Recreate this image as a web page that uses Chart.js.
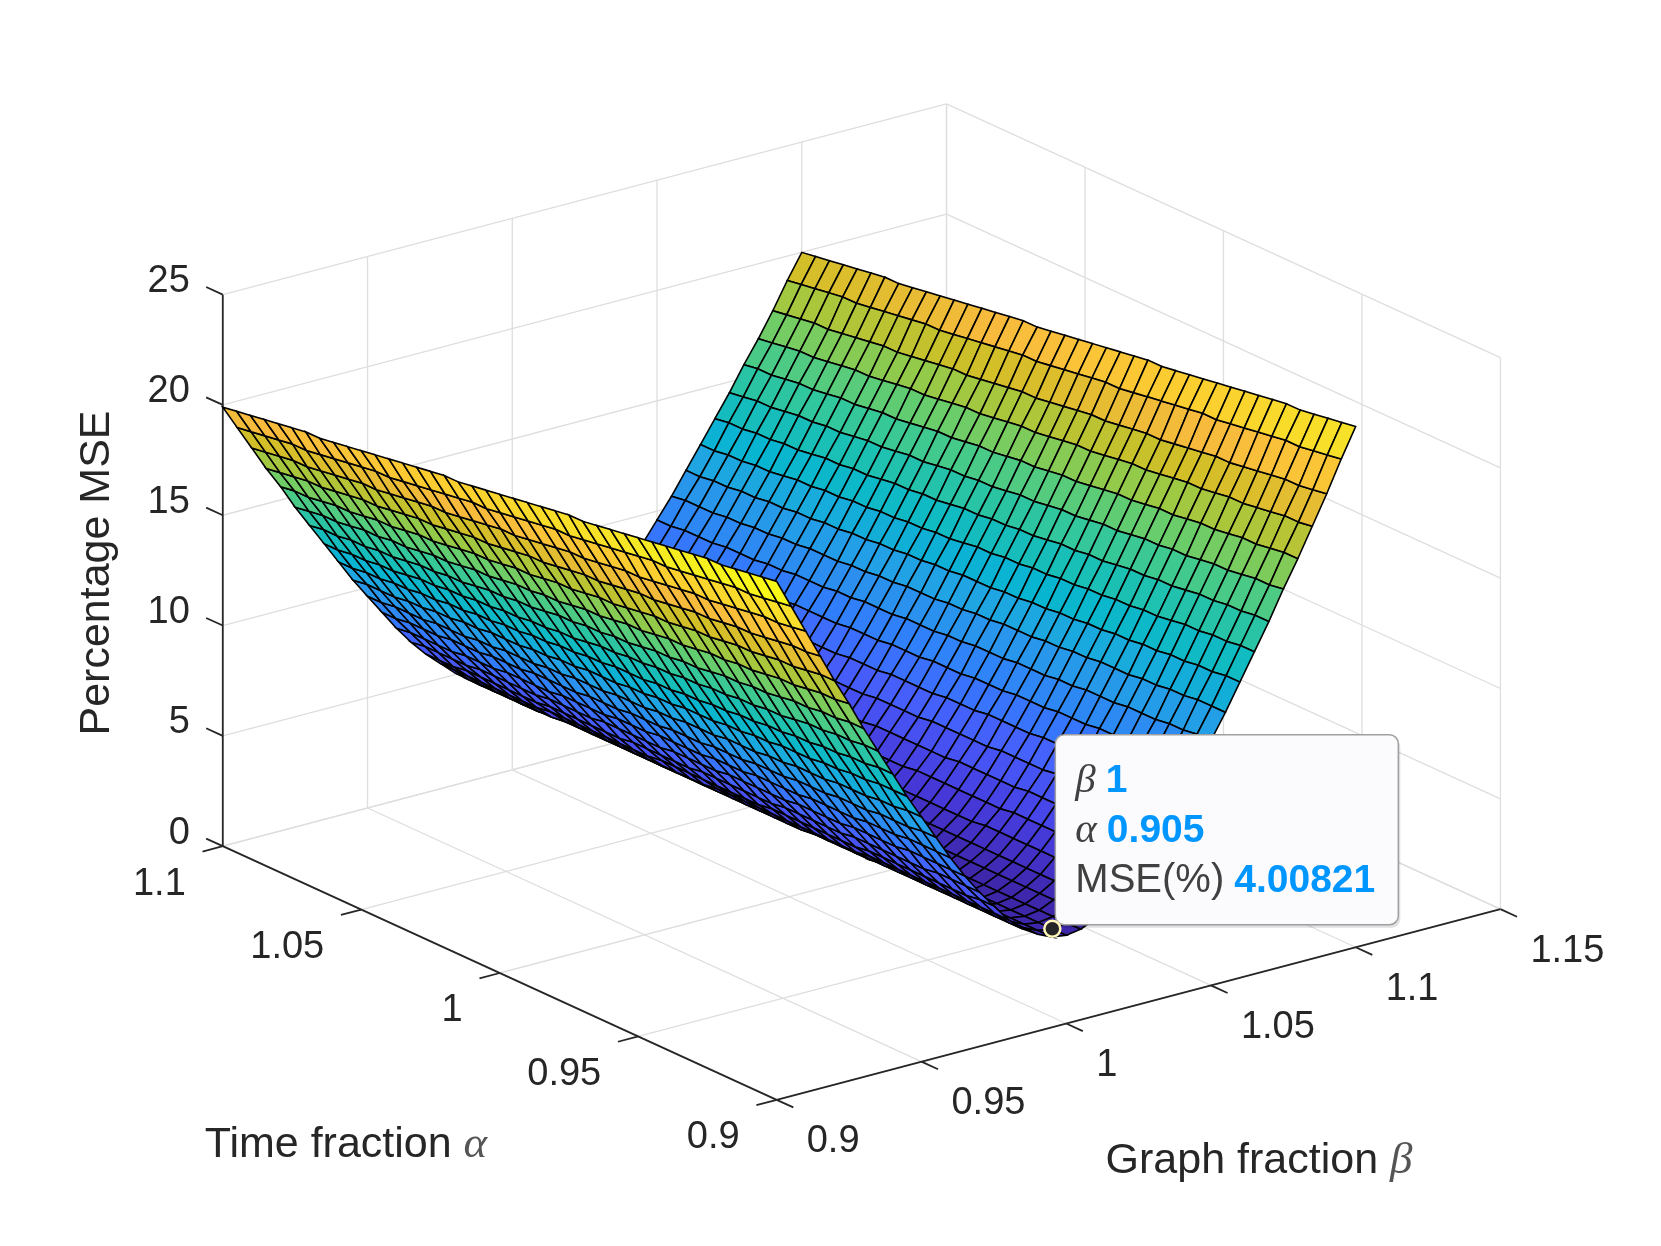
<!DOCTYPE html>
<html>
<head>
<meta charset="utf-8">
<title>Percentage MSE surface</title>
<script src="https://cdn.jsdelivr.net/npm/chart.js@4.4.1/dist/chart.umd.min.js"></script>
<style>
  html, body { margin: 0; padding: 0; background: #ffffff; }
  #wrap { width: 1661px; height: 1246px; position: relative; }
</style>
</head>
<body>
<div id="wrap"><canvas id="surf" width="1661" height="1246"></canvas></div>
<script>
// Grille des paramètres (alpha en lignes, beta en colonnes)
const alphaGrid = [0.900, 0.905, 0.910, 0.915, 0.920, 0.925, 0.930, 0.935, 0.940, 0.945,
                   0.950, 0.955, 0.960, 0.965, 0.970, 0.975, 0.980, 0.985, 0.990, 0.995,
                   1.000, 1.005, 1.010, 1.015, 1.020, 1.025, 1.030, 1.035, 1.040, 1.045,
                   1.050, 1.055, 1.060, 1.065, 1.070, 1.075, 1.080, 1.085, 1.090, 1.095, 1.100];
const betaGrid = [0.900, 0.905, 0.910, 0.915, 0.920, 0.925, 0.930, 0.935, 0.940, 0.945,
                  0.950, 0.955, 0.960, 0.965, 0.970, 0.975, 0.980, 0.985, 0.990, 0.995,
                  1.000, 1.005, 1.010, 1.015, 1.020, 1.025, 1.030, 1.035, 1.040, 1.045,
                  1.050, 1.055, 1.060, 1.065, 1.070, 1.075, 1.080, 1.085, 1.090, 1.095, 1.100];

// MSE (%), une ligne par valeur d'alpha
const mseGrid = [
  [23.5,22.2,20.9,19.6,18.3,17.1,15.8,14.6,13.4,12.2,11.1,10.0,8.9,7.9,7.0,6.2,5.4,4.8,4.4,4.1,4.0,4.1,4.4,4.8,5.4,6.2,7.0,7.9,8.9,10.0,11.1,12.2,13.4,14.6,15.8,17.1,18.3,19.6,20.9,22.3,23.6],
  [23.4,22.1,20.8,19.5,18.3,17.0,15.8,14.6,13.4,12.2,11.1,10.0,8.9,7.9,7.0,6.2,5.4,4.8,4.4,4.1,4.0,4.1,4.4,4.8,5.4,6.2,7.0,7.9,8.9,10.0,11.1,12.2,13.4,14.6,15.8,17.0,18.3,19.5,20.8,22.2,23.5],
  [23.3,22.0,20.7,19.5,18.2,17.0,15.7,14.5,13.3,12.2,11.0,9.9,8.9,7.9,7.0,6.1,5.4,4.8,4.4,4.1,4.0,4.1,4.4,4.8,5.4,6.1,7.0,7.9,8.9,9.9,11.0,12.2,13.3,14.5,15.7,17.0,18.2,19.5,20.7,22.1,23.4],
  [23.2,21.9,20.7,19.4,18.1,16.9,15.7,14.5,13.3,12.1,11.0,9.9,8.9,7.9,7.0,6.1,5.4,4.8,4.4,4.1,4.0,4.1,4.4,4.8,5.4,6.1,7.0,7.9,8.9,9.9,11.0,12.1,13.3,14.5,15.7,16.9,18.1,19.4,20.7,22.0,23.3],
  [23.1,21.9,20.6,19.3,18.1,16.8,15.6,14.4,13.2,12.1,10.9,9.9,8.8,7.9,6.9,6.1,5.4,4.8,4.4,4.1,4.0,4.1,4.4,4.8,5.4,6.1,6.9,7.9,8.8,9.9,10.9,12.1,13.2,14.4,15.6,16.8,18.1,19.3,20.6,22.0,23.2],
  [23.1,21.8,20.5,19.2,18.0,16.8,15.6,14.4,13.2,12.0,10.9,9.8,8.8,7.8,6.9,6.1,5.4,4.8,4.4,4.1,4.0,4.1,4.4,4.8,5.4,6.1,6.9,7.8,8.8,9.8,10.9,12.0,13.2,14.4,15.6,16.8,18.0,19.2,20.5,21.9,23.2],
  [23.0,21.7,20.4,19.2,17.9,16.7,15.5,14.3,13.1,12.0,10.9,9.8,8.8,7.8,6.9,6.1,5.4,4.8,4.4,4.1,4.0,4.1,4.4,4.8,5.4,6.1,6.9,7.8,8.8,9.8,10.9,12.0,13.1,14.3,15.5,16.7,17.9,19.2,20.4,21.8,23.1],
  [22.9,21.6,20.3,19.1,17.9,16.6,15.4,14.2,13.1,11.9,10.8,9.8,8.7,7.8,6.9,6.1,5.4,4.8,4.4,4.1,4.0,4.1,4.4,4.8,5.4,6.1,6.9,7.8,8.7,9.8,10.8,11.9,13.1,14.2,15.4,16.6,17.9,19.1,20.3,21.7,23.0],
  [22.8,21.5,20.3,19.0,17.8,16.6,15.4,14.2,13.0,11.9,10.8,9.7,8.7,7.8,6.9,6.1,5.4,4.8,4.4,4.1,4.0,4.1,4.4,4.8,5.4,6.1,6.9,7.8,8.7,9.7,10.8,11.9,13.0,14.2,15.4,16.6,17.8,19.0,20.3,21.6,22.9],
  [22.7,21.4,20.2,19.0,17.7,16.5,15.3,14.1,13.0,11.9,10.8,9.7,8.7,7.7,6.9,6.1,5.4,4.8,4.4,4.1,4.0,4.1,4.4,4.8,5.4,6.1,6.9,7.7,8.7,9.7,10.8,11.9,13.0,14.1,15.3,16.5,17.7,19.0,20.2,21.5,22.8],
  [22.6,21.4,20.1,18.9,17.7,16.5,15.3,14.1,12.9,11.8,10.7,9.7,8.7,7.7,6.8,6.0,5.4,4.8,4.4,4.1,4.0,4.1,4.4,4.8,5.4,6.0,6.8,7.7,8.7,9.7,10.7,11.8,12.9,14.1,15.3,16.5,17.7,18.9,20.1,21.5,22.7],
  [22.5,21.3,20.0,18.8,17.6,16.4,15.2,14.0,12.9,11.8,10.7,9.6,8.6,7.7,6.8,6.0,5.3,4.8,4.4,4.1,4.0,4.1,4.4,4.8,5.3,6.0,6.8,7.7,8.6,9.6,10.7,11.8,12.9,14.0,15.2,16.4,17.6,18.8,20.0,21.4,22.6],
  [22.4,21.2,19.9,18.7,17.5,16.3,15.1,14.0,12.8,11.7,10.6,9.6,8.6,7.7,6.8,6.0,5.3,4.8,4.3,4.1,4.0,4.1,4.3,4.8,5.3,6.0,6.8,7.7,8.6,9.6,10.6,11.7,12.8,14.0,15.1,16.3,17.5,18.7,19.9,21.3,22.5],
  [22.3,21.1,19.9,18.7,17.5,16.3,15.1,13.9,12.8,11.7,10.6,9.6,8.6,7.6,6.8,6.0,5.3,4.8,4.3,4.1,4.0,4.1,4.3,4.8,5.3,6.0,6.8,7.6,8.6,9.6,10.6,11.7,12.8,13.9,15.1,16.3,17.5,18.7,19.9,21.2,22.4],
  [22.2,21.0,19.8,18.6,17.4,16.2,15.0,13.9,12.7,11.6,10.6,9.5,8.6,7.6,6.8,6.0,5.3,4.8,4.3,4.1,4.0,4.1,4.3,4.8,5.3,6.0,6.8,7.6,8.6,9.5,10.6,11.6,12.7,13.9,15.0,16.2,17.4,18.6,19.8,21.1,22.3],
  [22.2,20.9,19.7,18.5,17.3,16.1,15.0,13.8,12.7,11.6,10.5,9.5,8.5,7.6,6.7,6.0,5.3,4.8,4.3,4.1,4.0,4.1,4.3,4.8,5.3,6.0,6.7,7.6,8.5,9.5,10.5,11.6,12.7,13.8,15.0,16.1,17.3,18.5,19.7,21.0,22.3],
  [22.1,20.8,19.6,18.4,17.2,16.1,14.9,13.8,12.6,11.6,10.5,9.5,8.5,7.6,6.7,6.0,5.3,4.7,4.3,4.1,4.0,4.1,4.3,4.7,5.3,6.0,6.7,7.6,8.5,9.5,10.5,11.6,12.6,13.8,14.9,16.1,17.2,18.4,19.6,20.9,22.2],
  [22.0,20.8,19.6,18.4,17.2,16.0,14.8,13.7,12.6,11.5,10.5,9.4,8.5,7.6,6.7,5.9,5.3,4.7,4.3,4.1,4.0,4.1,4.3,4.7,5.3,5.9,6.7,7.6,8.5,9.4,10.5,11.5,12.6,13.7,14.8,16.0,17.2,18.4,19.6,20.9,22.1],
  [21.9,20.7,19.5,18.3,17.1,15.9,14.8,13.7,12.5,11.5,10.4,9.4,8.4,7.5,6.7,5.9,5.3,4.7,4.3,4.1,4.0,4.1,4.3,4.7,5.3,5.9,6.7,7.5,8.4,9.4,10.4,11.5,12.5,13.7,14.8,15.9,17.1,18.3,19.5,20.8,22.0],
  [21.8,20.6,19.4,18.2,17.0,15.9,14.7,13.6,12.5,11.4,10.4,9.4,8.4,7.5,6.7,5.9,5.3,4.7,4.3,4.1,4.0,4.1,4.3,4.7,5.3,5.9,6.7,7.5,8.4,9.4,10.4,11.4,12.5,13.6,14.7,15.9,17.0,18.2,19.4,20.7,21.9],
  [21.7,20.5,19.3,18.1,17.0,15.8,14.7,13.6,12.5,11.4,10.3,9.3,8.4,7.5,6.7,5.9,5.3,4.7,4.3,4.1,4.0,4.1,4.3,4.7,5.3,5.9,6.7,7.5,8.4,9.3,10.3,11.4,12.5,13.6,14.7,15.8,17.0,18.1,19.3,20.6,21.8],
  [21.6,20.4,19.2,18.1,16.9,15.7,14.6,13.5,12.4,11.3,10.3,9.3,8.4,7.5,6.6,5.9,5.3,4.7,4.3,4.1,4.0,4.1,4.3,4.7,5.3,5.9,6.6,7.5,8.4,9.3,10.3,11.3,12.4,13.5,14.6,15.7,16.9,18.1,19.2,20.5,21.7],
  [21.5,20.3,19.2,18.0,16.8,15.7,14.6,13.4,12.4,11.3,10.3,9.3,8.3,7.4,6.6,5.9,5.2,4.7,4.3,4.1,4.0,4.1,4.3,4.7,5.2,5.9,6.6,7.4,8.3,9.3,10.3,11.3,12.4,13.4,14.6,15.7,16.8,18.0,19.2,20.4,21.6],
  [21.4,20.3,19.1,17.9,16.8,15.6,14.5,13.4,12.3,11.3,10.2,9.2,8.3,7.4,6.6,5.9,5.2,4.7,4.3,4.1,4.0,4.1,4.3,4.7,5.2,5.9,6.6,7.4,8.3,9.2,10.2,11.3,12.3,13.4,14.5,15.6,16.8,17.9,19.1,20.4,21.5],
  [21.4,20.2,19.0,17.8,16.7,15.6,14.4,13.3,12.3,11.2,10.2,9.2,8.3,7.4,6.6,5.9,5.2,4.7,4.3,4.1,4.0,4.1,4.3,4.7,5.2,5.9,6.6,7.4,8.3,9.2,10.2,11.2,12.3,13.3,14.4,15.6,16.7,17.8,19.0,20.3,21.5],
  [21.3,20.1,18.9,17.8,16.6,15.5,14.4,13.3,12.2,11.2,10.2,9.2,8.2,7.4,6.6,5.8,5.2,4.7,4.3,4.1,4.0,4.1,4.3,4.7,5.2,5.8,6.6,7.4,8.2,9.2,10.2,11.2,12.2,13.3,14.4,15.5,16.6,17.8,18.9,20.2,21.4],
  [21.2,20.0,18.8,17.7,16.6,15.4,14.3,13.2,12.2,11.1,10.1,9.1,8.2,7.4,6.5,5.8,5.2,4.7,4.3,4.1,4.0,4.1,4.3,4.7,5.2,5.8,6.5,7.4,8.2,9.1,10.1,11.1,12.2,13.2,14.3,15.4,16.6,17.7,18.8,20.1,21.3],
  [21.1,19.9,18.8,17.6,16.5,15.4,14.3,13.2,12.1,11.1,10.1,9.1,8.2,7.3,6.5,5.8,5.2,4.7,4.3,4.1,4.0,4.1,4.3,4.7,5.2,5.8,6.5,7.3,8.2,9.1,10.1,11.1,12.1,13.2,14.3,15.4,16.5,17.6,18.8,20.0,21.2],
  [21.0,19.8,18.7,17.5,16.4,15.3,14.2,13.1,12.1,11.0,10.0,9.1,8.2,7.3,6.5,5.8,5.2,4.7,4.3,4.1,4.0,4.1,4.3,4.7,5.2,5.8,6.5,7.3,8.2,9.1,10.0,11.0,12.1,13.1,14.2,15.3,16.4,17.5,18.7,19.9,21.1],
  [20.9,19.7,18.6,17.5,16.3,15.2,14.1,13.1,12.0,11.0,10.0,9.1,8.1,7.3,6.5,5.8,5.2,4.7,4.3,4.1,4.0,4.1,4.3,4.7,5.2,5.8,6.5,7.3,8.1,9.1,10.0,11.0,12.0,13.1,14.1,15.2,16.3,17.5,18.6,19.8,21.0],
  [20.8,19.7,18.5,17.4,16.3,15.2,14.1,13.0,12.0,11.0,10.0,9.0,8.1,7.3,6.5,5.8,5.2,4.7,4.3,4.1,4.0,4.1,4.3,4.7,5.2,5.8,6.5,7.3,8.1,9.0,10.0,11.0,12.0,13.0,14.1,15.2,16.3,17.4,18.5,19.8,20.9],
  [20.7,19.6,18.4,17.3,16.2,15.1,14.0,13.0,11.9,10.9,9.9,9.0,8.1,7.2,6.5,5.8,5.2,4.7,4.3,4.1,4.0,4.1,4.3,4.7,5.2,5.8,6.5,7.2,8.1,9.0,9.9,10.9,11.9,13.0,14.0,15.1,16.2,17.3,18.4,19.7,20.8],
  [20.6,19.5,18.4,17.2,16.1,15.0,14.0,12.9,11.9,10.9,9.9,9.0,8.1,7.2,6.4,5.8,5.2,4.7,4.3,4.1,4.0,4.1,4.3,4.7,5.2,5.8,6.4,7.2,8.1,9.0,9.9,10.9,11.9,12.9,14.0,15.0,16.1,17.2,18.4,19.6,20.7],
  [20.5,19.4,18.3,17.2,16.1,15.0,13.9,12.9,11.8,10.8,9.8,8.9,8.0,7.2,6.4,5.7,5.1,4.7,4.3,4.1,4.0,4.1,4.3,4.7,5.1,5.7,6.4,7.2,8.0,8.9,9.8,10.8,11.8,12.9,13.9,15.0,16.1,17.2,18.3,19.5,20.6],
  [20.5,19.3,18.2,17.1,16.0,14.9,13.8,12.8,11.8,10.8,9.8,8.9,8.0,7.2,6.4,5.7,5.1,4.7,4.3,4.1,4.0,4.1,4.3,4.7,5.1,5.7,6.4,7.2,8.0,8.9,9.8,10.8,11.8,12.8,13.8,14.9,16.0,17.1,18.2,19.4,20.6],
  [20.4,19.2,18.1,17.0,15.9,14.9,13.8,12.7,11.7,10.7,9.8,8.9,8.0,7.2,6.4,5.7,5.1,4.6,4.3,4.1,4.0,4.1,4.3,4.6,5.1,5.7,6.4,7.2,8.0,8.9,9.8,10.7,11.7,12.7,13.8,14.9,15.9,17.0,18.1,19.3,20.5],
  [20.3,19.2,18.0,16.9,15.9,14.8,13.7,12.7,11.7,10.7,9.7,8.8,7.9,7.1,6.4,5.7,5.1,4.6,4.3,4.1,4.0,4.1,4.3,4.6,5.1,5.7,6.4,7.1,7.9,8.8,9.7,10.7,11.7,12.7,13.7,14.8,15.9,16.9,18.0,19.3,20.4],
  [20.2,19.1,18.0,16.9,15.8,14.7,13.7,12.6,11.6,10.6,9.7,8.8,7.9,7.1,6.4,5.7,5.1,4.6,4.3,4.1,4.0,4.1,4.3,4.6,5.1,5.7,6.4,7.1,7.9,8.8,9.7,10.6,11.6,12.6,13.7,14.7,15.8,16.9,18.0,19.2,20.3],
  [20.1,19.0,17.9,16.8,15.7,14.7,13.6,12.6,11.6,10.6,9.7,8.8,7.9,7.1,6.3,5.7,5.1,4.6,4.3,4.1,4.0,4.1,4.3,4.6,5.1,5.7,6.3,7.1,7.9,8.8,9.7,10.6,11.6,12.6,13.6,14.7,15.7,16.8,17.9,19.1,20.2],
  [20.0,18.9,17.8,16.7,15.7,14.6,13.6,12.5,11.5,10.6,9.6,8.7,7.9,7.1,6.3,5.7,5.1,4.6,4.3,4.1,4.0,4.1,4.3,4.6,5.1,5.7,6.3,7.1,7.9,8.7,9.6,10.6,11.5,12.5,13.6,14.6,15.7,16.7,17.8,19.0,20.1],
  [19.9,18.8,17.7,16.6,15.6,14.5,13.5,12.5,11.5,10.5,9.6,8.7,7.8,7.0,6.3,5.7,5.1,4.6,4.3,4.1,4.0,4.1,4.3,4.6,5.1,5.7,6.3,7.0,7.8,8.7,9.6,10.5,11.5,12.5,13.5,14.5,15.6,16.6,17.7,18.9,20.0]
];

// Graduations des trois axes
const alphaTicks = [0.9, 0.95, 1, 1.05, 1.1];
const betaTicks = [0.9, 0.95, 1, 1.05, 1.1, 1.15];
const mseTicks = [0, 5, 10, 15, 20, 25];

// Point marqué (datatip)
const tipBeta = 1;
const tipAlpha = 0.905;
const tipMse = 4.00821;

// Limites de la boîte 3D
const LIM = { a0: 0.9, a1: 1.1, b0: 0.9, b1: 1.15, z0: 0, z1: 25 };

// Vue orthographique : origine (alpha=1.1, beta=0.9, MSE=0) et vecteurs des arêtes en pixels
const VIEW = { ox: 215, oy: 850, px: 561, py: 258, qx: 733, qy: -194, wz: 561 };

function toBox(a, b, z) {
    return {
        p: (LIM.a1 - a) / (LIM.a1 - LIM.a0),
        q: (b - LIM.b0) / (LIM.b1 - LIM.b0),
        w: (z - LIM.z0) / (LIM.z1 - LIM.z0)
    };
}

function project(a, b, z) {
    const { p, q, w } = toBox(a, b, z);
    return {
        x: VIEW.ox + VIEW.px * p + VIEW.qx * q,
        y: VIEW.oy + VIEW.py * p + VIEW.qy * q - VIEW.wz * w
    };
}

// Profondeur vers l'observateur (plus grand = plus proche)
function depth(a, b, z) {
    const { p, q, w } = toBox(a, b, z);
    return 691 * p - 521 * q + 208 * w;
}

// Palette parula (positions sur 64 niveaux)
const PARULA_POS = [0, 4, 8, 12, 16, 20, 24, 28, 32, 36, 40, 44, 48, 52, 56, 60, 63];
const PARULA_RGB = [
    [62, 38, 168], [69, 55, 213], [72, 77, 240], [69, 99, 253], [50, 124, 252],
    [43, 145, 239], [32, 165, 227], [8, 181, 208], [25, 191, 182], [55, 200, 151],
    [100, 205, 111], [157, 201, 67], [209, 191, 39], [248, 186, 61], [252, 207, 48],
    [245, 233, 36], [249, 251, 21]
];

function parula(v, lo, hi) {
    let t = (v - lo) / (hi - lo);
    t = Math.max(0, Math.min(1, t));
    const pos = t * 63;
    let s = 0;
    while (s < PARULA_POS.length - 2 && PARULA_POS[s + 1] < pos) s++;
    const f = (pos - PARULA_POS[s]) / (PARULA_POS[s + 1] - PARULA_POS[s]);
    const c0 = PARULA_RGB[s], c1 = PARULA_RGB[s + 1];
    const r = Math.round(c0[0] + (c1[0] - c0[0]) * f);
    const g = Math.round(c0[1] + (c1[1] - c0[1]) * f);
    const b = Math.round(c0[2] + (c1[2] - c0[2]) * f);
    return `rgb(${r},${g},${b})`;
}

// Construire les facettes de la surface
function buildSurfaceDatasets() {
    let zMin = Infinity, zMax = -Infinity;
    mseGrid.forEach(row => row.forEach(v => { zMin = Math.min(zMin, v); zMax = Math.max(zMax, v); }));

    const quads = [];
    for (let i = 0; i < alphaGrid.length - 1; i++) {
        for (let j = 0; j < betaGrid.length - 1; j++) {
            const idx = [[i, j], [i, j + 1], [i + 1, j + 1], [i + 1, j]];
            const pts = idx.map(([r, c]) => project(alphaGrid[r], betaGrid[c], mseGrid[r][c]));
            pts.push(pts[0]);
            const aMid = (alphaGrid[i] + alphaGrid[i + 1]) / 2;
            const bMid = (betaGrid[j] + betaGrid[j + 1]) / 2;
            const zMid = (mseGrid[i][j] + mseGrid[i][j + 1] + mseGrid[i + 1][j] + mseGrid[i + 1][j + 1]) / 4;
            quads.push({
                pts,
                color: parula(mseGrid[i][j], zMin, zMax),
                d: depth(aMid, bMid, zMid)
            });
        }
    }
    // le plus proche en premier : Chart.js dessine le premier jeu en dernier
    quads.sort((u, v) => v.d - u.d);

    return quads.map(qd => ({
        type: 'line',
        data: qd.pts,
        fill: 'shape',
        backgroundColor: qd.color,
        borderColor: '#000000',
        borderWidth: 1.6,
        pointRadius: 0,
        tension: 0,
        order: 1
    }));
}

function segment(p0, p1, color, width, order) {
    return {
        type: 'line',
        data: [p0, p1],
        fill: false,
        borderColor: color,
        borderWidth: width,
        pointRadius: 0,
        tension: 0,
        order: order
    };
}

// Grilles des plans du fond et axes
function buildFrameDatasets() {
    const grid = '#dedede';
    const axis = '#262626';
    const out = [];

    // sol (MSE = 0)
    alphaTicks.forEach(a => out.push(segment(project(a, LIM.b0, 0), project(a, LIM.b1, 0), grid, 1.3, 3)));
    betaTicks.forEach(b => out.push(segment(project(LIM.a1, b, 0), project(LIM.a0, b, 0), grid, 1.3, 3)));
    // mur gauche (alpha = 1.1)
    betaTicks.forEach(b => out.push(segment(project(LIM.a1, b, 0), project(LIM.a1, b, LIM.z1), grid, 1.3, 3)));
    mseTicks.forEach(z => out.push(segment(project(LIM.a1, LIM.b0, z), project(LIM.a1, LIM.b1, z), grid, 1.3, 3)));
    // mur droit (beta = 1.15)
    alphaTicks.forEach(a => out.push(segment(project(a, LIM.b1, 0), project(a, LIM.b1, LIM.z1), grid, 1.3, 3)));
    mseTicks.forEach(z => out.push(segment(project(LIM.a1, LIM.b1, z), project(LIM.a0, LIM.b1, z), grid, 1.3, 3)));

    // axes
    out.push(segment(project(LIM.a1, LIM.b0, 0), project(LIM.a1, LIM.b0, LIM.z1), axis, 1.8, 2));
    out.push(segment(project(LIM.a1, LIM.b0, 0), project(LIM.a0, LIM.b0, 0), axis, 1.8, 2));
    out.push(segment(project(LIM.a0, LIM.b0, 0), project(LIM.a0, LIM.b1, 0), axis, 1.8, 2));

    // petites graduations
    const da = (LIM.a1 - LIM.a0) * 0.03;
    const db = (LIM.b1 - LIM.b0) * 0.028;
    mseTicks.forEach(z => out.push(segment(project(LIM.a1, LIM.b0, z), project(LIM.a1 + da, LIM.b0, z), axis, 1.8, 2)));
    alphaTicks.forEach(a => out.push(segment(project(a, LIM.b0, 0), project(a, LIM.b0 - db, 0), axis, 1.8, 2)));
    betaTicks.forEach(b => out.push(segment(project(LIM.a0, b, 0), project(LIM.a0 - da, b, 0), axis, 1.8, 2)));
    return out;
}

function tipDataset() {
    return {
        type: 'line',
        data: [project(tipAlpha, tipBeta, tipMse)],
        showLine: false,
        pointRadius: 8,
        pointBackgroundColor: '#262626',
        pointBorderColor: '#fff6b8',
        pointBorderWidth: 2.5,
        order: 0,
        isTip: true
    };
}

const SANS = '"Liberation Sans", Arial, Helvetica, sans-serif';
const SERIF = '"Liberation Serif", "DejaVu Serif", serif';

// Bulle du datatip, dessinée juste avant le marqueur
function drawTipBox(chart) {
    const ctx = chart.ctx;
    const sx = chart.scales.x, sy = chart.scales.y;
    const p = project(tipAlpha, tipBeta, tipMse);
    const x0 = sx.getPixelForValue(p.x) + 3;
    const y1 = sy.getPixelForValue(p.y) - 4;
    const w = 343, h = 190;
    const y0 = y1 - h;

    ctx.save();
    ctx.fillStyle = 'rgba(0,0,0,0.12)';
    ctx.beginPath();
    ctx.roundRect(x0 + 2, y0 + 3, w, h, 9);
    ctx.fill();
    ctx.fillStyle = '#fbfbfd';
    ctx.strokeStyle = '#a0a0a0';
    ctx.lineWidth = 1.5;
    ctx.beginPath();
    ctx.roundRect(x0, y0, w, h, 9);
    ctx.fill();
    ctx.stroke();

    const lines = [
        { name: '\u03B2', italic: true, value: String(tipBeta) },
        { name: '\u03B1', italic: true, value: String(tipAlpha) },
        { name: 'MSE(%)', italic: false, value: String(tipMse) }
    ];
    ctx.textBaseline = 'middle';
    ctx.textAlign = 'left';
    lines.forEach((ln, k) => {
        const ty = y0 + 46 + k * 50;
        let tx = x0 + 20;
        ctx.fillStyle = '#404040';
        ctx.font = ln.italic ? `italic 41px ${SERIF}` : `40px ${SANS}`;
        ctx.fillText(ln.name, tx, ty);
        tx += ctx.measureText(ln.name).width + 10;
        ctx.fillStyle = '#0096ff';
        ctx.font = `bold 39px ${SANS}`;
        ctx.fillText(ln.value, tx, ty);
    });
    ctx.restore();
}

function drawLabelWithSymbol(ctx, text, symbol, cx, cy) {
    ctx.font = `43px ${SANS}`;
    const w1 = ctx.measureText(text).width;
    ctx.font = `italic 45px ${SERIF}`;
    const w2 = ctx.measureText(symbol).width;
    const start = cx - (w1 + w2) / 2;
    ctx.textAlign = 'left';
    ctx.fillStyle = '#262626';
    ctx.font = `43px ${SANS}`;
    ctx.fillText(text, start, cy);
    ctx.fillStyle = '#555555';
    ctx.font = `italic 45px ${SERIF}`;
    ctx.fillText(symbol, start + w1, cy);
}

const surfaceText = {
    id: 'surfaceText',
    beforeDatasetDraw(chart, args) {
        const ds = chart.data.datasets[args.index];
        if (ds && ds.isTip) drawTipBox(chart);
    },
    afterDraw(chart) {
        const ctx = chart.ctx;
        const sx = chart.scales.x, sy = chart.scales.y;
        const pix = pt => ({ x: sx.getPixelForValue(pt.x), y: sy.getPixelForValue(pt.y) });
        ctx.save();
        ctx.fillStyle = '#262626';
        ctx.font = `38px ${SANS}`;
        ctx.textBaseline = 'middle';

        // graduations MSE
        ctx.textAlign = 'right';
        mseTicks.forEach(z => {
            const p = pix(project(LIM.a1, LIM.b0, z));
            ctx.fillText(String(z), p.x - 33, p.y - 13);
        });
        // graduations alpha
        alphaTicks.forEach(a => {
            const p = pix(project(a, LIM.b0, 0));
            ctx.fillText(String(a), p.x - 37, p.y + 38);
        });
        // graduations beta
        ctx.textAlign = 'left';
        betaTicks.forEach(b => {
            const p = pix(project(LIM.a0, b, 0));
            ctx.fillText(String(b), p.x + 30, p.y + 42);
        });

        // titres des axes
        ctx.save();
        ctx.translate(97, 573);
        ctx.rotate(-Math.PI / 2);
        ctx.textAlign = 'center';
        ctx.font = `43px ${SANS}`;
        ctx.fillText('Percentage MSE', 0, 0);
        ctx.restore();

        drawLabelWithSymbol(ctx, 'Time fraction ', '\u03B1', 346, 1145);
        drawLabelWithSymbol(ctx, 'Graph fraction ', '\u03B2', 1259, 1161);
        ctx.restore();
    }
};

const datasets = [tipDataset()].concat(buildSurfaceDatasets(), buildFrameDatasets());

new Chart(document.getElementById('surf'), {
    type: 'line',
    data: { datasets },
    options: {
        responsive: false,
        devicePixelRatio: 1,
        animation: false,
        events: [],
        normalized: true,
        layout: { padding: 0 },
        plugins: {
            legend: { display: false },
            tooltip: { enabled: false }
        },
        scales: {
            x: { type: 'linear', min: 0, max: 1661, display: false },
            y: { type: 'linear', min: 0, max: 1246, reverse: true, display: false }
        }
    },
    plugins: [surfaceText]
});
</script>
</body>
</html>
